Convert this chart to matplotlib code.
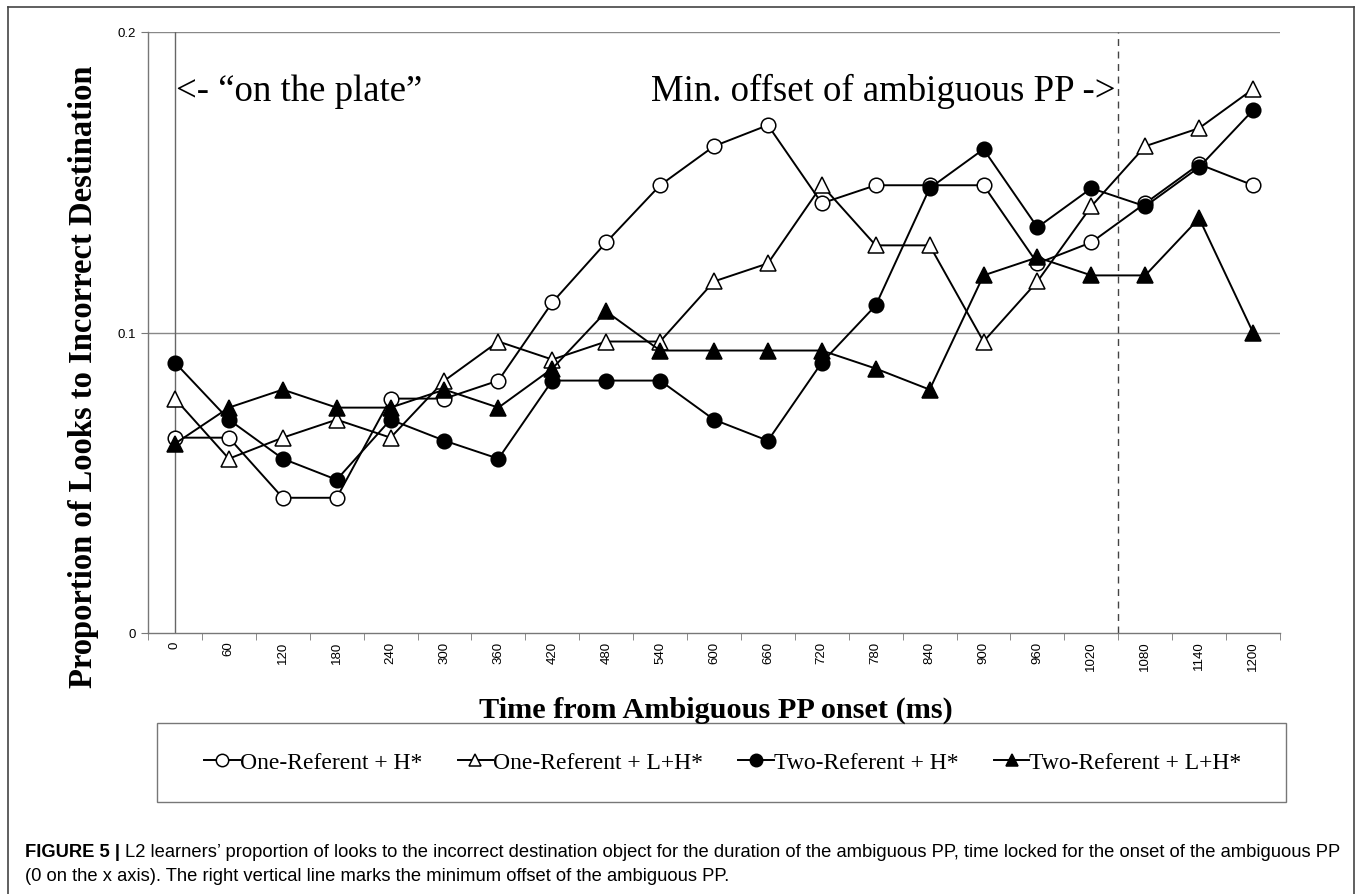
import matplotlib
matplotlib.use("Agg")
import matplotlib.pyplot as plt
from matplotlib.lines import Line2D
from matplotlib.patches import Rectangle

time_ms = [0, 60, 120, 180, 240, 300, 360, 420, 480, 540, 600, 660, 720, 780, 840, 900, 960, 1020, 1080, 1140, 1200]
tick_labels = [str(t) for t in time_ms]

one_ref_h = [0.065, 0.065, 0.045, 0.045, 0.078, 0.078, 0.084, 0.110, 0.130, 0.149, 0.162, 0.169, 0.143, 0.149, 0.149, 0.149, 0.123, 0.130, 0.143, 0.156, 0.149]
one_ref_lh = [0.078, 0.058, 0.065, 0.071, 0.065, 0.084, 0.097, 0.091, 0.097, 0.097, 0.117, 0.123, 0.149, 0.129, 0.129, 0.097, 0.117, 0.142, 0.162, 0.168, 0.181]
two_ref_h = [0.090, 0.071, 0.058, 0.051, 0.071, 0.064, 0.058, 0.084, 0.084, 0.084, 0.071, 0.064, 0.090, 0.109, 0.148, 0.161, 0.135, 0.148, 0.142, 0.155, 0.174]
two_ref_lh = [0.063, 0.075, 0.081, 0.075, 0.075, 0.081, 0.075, 0.088, 0.107, 0.094, 0.094, 0.094, 0.094, 0.088, 0.081, 0.119, 0.125, 0.119, 0.119, 0.138, 0.100]

series_names = ["One-Referent + H*", "One-Referent + L+H*", "Two-Referent + H*", "Two-Referent + L+H*"]
y_ticks = [0, 0.1, 0.2]
y_tick_labels = ["0", "0.1", "0.2"]
plate_time = 0
offset_time = 1050

W, H = 1358, 895
fig = plt.figure(figsize=(W / 100, H / 100), dpi=100)

serif = ["Liberation Serif", "DejaVu Serif"]
sans = ["Liberation Sans", "DejaVu Sans"]

# outer frame (open at bottom)
frame_col = "#444444"
fig.add_artist(Line2D([8 / W, 8 / W], [0, 1 - 8 / H], transform=fig.transFigure, color=frame_col, lw=1.2))
fig.add_artist(Line2D([1354 / W, 1354 / W], [0, 1 - 8 / H], transform=fig.transFigure, color=frame_col, lw=1.2))
fig.add_artist(Line2D([8 / W, 1354 / W], [1 - 8 / H, 1 - 8 / H], transform=fig.transFigure, color=frame_col, lw=1.2))

ax = fig.add_axes([148 / W, 1 - 634 / H, (1280 - 148) / W, (634 - 33) / H])
ax.set_xlim(-30, 1230)
ax.set_ylim(0, 0.2)

styles = [
    dict(marker="o", mfc="white", ms=10.5),
    dict(marker="^", mfc="white", ms=11),
    dict(marker="o", mfc="black", ms=10.5),
    dict(marker="^", mfc="black", ms=11),
]
data = [one_ref_h, one_ref_lh, two_ref_h, two_ref_lh]

for yy in [0.1, 0.2]:
    ax.axhline(yy, color="#888888", lw=1.0, zorder=1)
ax.axvline(plate_time, color="#666666", lw=1.0, zorder=1)
ax.axvline(offset_time, color="#444444", lw=1.0, ls=(0, (5, 4)), zorder=1)

handles = []
for vals, st, name in zip(data, styles, series_names):
    ln, = ax.plot(time_ms, vals, color="black", lw=1.4, marker=st["marker"], mfc=st["mfc"],
                  mec="black", mew=1.1, ms=st["ms"], zorder=3, label=name)
    handles.append(ln)

for s in ["top", "right"]:
    ax.spines[s].set_visible(False)
for s in ["left", "bottom"]:
    ax.spines[s].set_color("#777777")
    ax.spines[s].set_linewidth(1.0)

ax.set_yticks(y_ticks)
ax.set_yticklabels(y_tick_labels, fontfamily=sans, fontsize=9.5)
ax.tick_params(axis="y", direction="out", length=5, color="#777777", pad=4)

ax.set_xticks(time_ms)
ax.set_xticklabels(tick_labels, rotation=90, fontfamily=sans, fontsize=9.5)
ax.tick_params(axis="x", which="major", length=0, pad=5.5)
ax.set_xticks([t - 30 for t in time_ms] + [1230], minor=True)
ax.tick_params(axis="x", which="minor", direction="out", length=5, color="#777777")

ax.text(plate_time + 1, 0.1773, "<- \u201con the plate\u201d", fontfamily=serif, fontsize=26.5,
        ha="left", va="baseline", zorder=4)
ax.text(offset_time - 3, 0.1773, "Min. offset of ambiguous PP ->", fontfamily=serif, fontsize=26.5,
        ha="right", va="baseline", zorder=4)

fig.text(84 / W, 1 - 377 / H, "Proportion of Looks to Incorrect Destination", rotation=90,
         fontfamily=serif, fontweight="bold", fontsize=23.5, ha="center", va="center")
fig.text(716 / W, 1 - 710 / H, "Time from Ambiguous PP onset (ms)", fontfamily=serif,
         fontweight="bold", fontsize=21.8, ha="center", va="center")

# legend box
fig.add_artist(Rectangle((157 / W, 1 - 803 / H), (1286 - 157) / W, (803 - 724) / H,
                         transform=fig.transFigure, fill=False, ec="#777777", lw=1.0))
leg = fig.legend(handles=handles, loc="center", bbox_to_anchor=(723 / W, 1 - 763 / H), ncol=4,
                 frameon=False, prop={"family": serif, "size": 17}, handlelength=1.5,
                 handletextpad=0.0, columnspacing=1.5, markerscale=0.85)

# caption
fig.canvas.draw()
r = fig.canvas.get_renderer()
t1 = fig.text(25 / W, 1 - 853 / H, "FIGURE 5 |", fontfamily=sans, fontweight="bold", fontsize=13.25,
              ha="left", va="center")
bb = t1.get_window_extent(renderer=r)
fig.text((bb.x1 + 5) / W, 1 - 853 / H,
         "L2 learners\u2019 proportion of looks to the incorrect destination object for the duration of the ambiguous PP, time locked for the onset of the ambiguous PP",
         fontfamily=sans, fontsize=13.25, ha="left", va="center")
fig.text(25 / W, 1 - 877 / H,
         "(0 on the x axis). The right vertical line marks the minimum offset of the ambiguous PP.",
         fontfamily=sans, fontsize=13.25, ha="left", va="center")

fig.savefig("out.png", dpi=100)
